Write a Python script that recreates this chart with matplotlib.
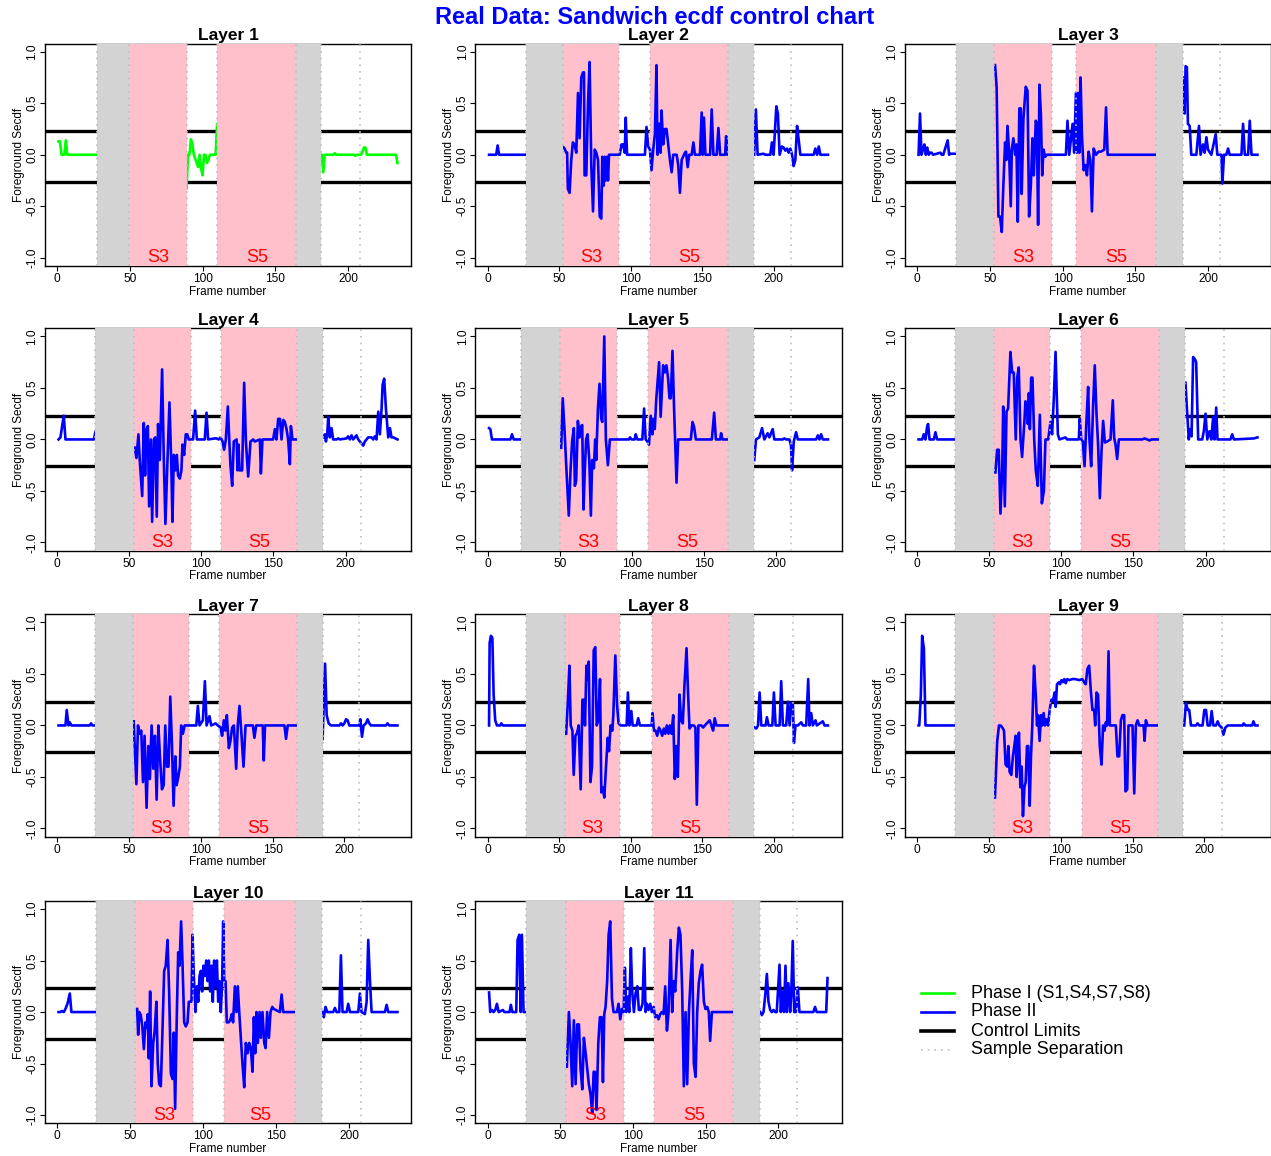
import numpy as np
import matplotlib.pyplot as plt
from matplotlib.lines import Line2D

plt.rcParams['font.family'] = ['Liberation Sans', 'DejaVu Sans']

# control limits
ucl, lcl = 0.23, -0.26

# sample boundaries per layer (frame numbers)
s2_start = [27.5, 26.5, 26.5, 26.5, 23, 26.5, 26.5, 27, 26.5, 26.5, 26.5]
s3_start = [49.5, 52.5, 53, 53, 50, 53.5, 52.5, 54, 53.5, 53.5, 54]
s3_end = [89, 92, 92.5, 92.5, 90, 92, 92, 92.5, 92.5, 93, 93.5]
s5_start = [110, 113.5, 109, 113.5, 111, 113.5, 112.5, 115, 115, 114.5, 114.5]
s5_end = [164.5, 168, 164.5, 166.5, 166.5, 168, 167, 169, 167.5, 163, 169]
s6_end = [181.5, 186.5, 182.5, 184.5, 184.5, 185.5, 185, 186.5, 185.5, 181.5, 187]
s8_start = [208, 212, 208, 211, 210.5, 212.5, 210.5, 213.5, 212, 208, 212.5]
n_frames = [234, 238, 234, 236, 236, 236, 237, 238, 237, 233, 234]

# Layer 1 (phase I, green)
layer1_a = [(1, 0.13), (2, 0.13), (3, 0), (5, 0), (6, 0.14), (7, 0), (27.5, 0)]
layer1_b = [(88, 0), (89, -0.33), (90, 0), (91, 0), (92, 0.15), (93, 0.1), (94, 0), (97, -0.12), (98, 0),
            (99, -0.13), (100, -0.2), (101, 0), (102, 0), (103, -0.08), (104, -0.05), (105, 0), (108, 0),
            (109, 0), (110, 0.3), (111, 0.3)]
layer1_c = [(163, 0), (164, 0), (165, -0.05), (166, 0), (181, 0), (182, 0), (183, -0.17), (184, 0), (190, 0),
            (191, 0.015), (192, 0), (204, 0), (205, -0.01), (206, 0), (209, 0), (210, 0.03), (211, 0.07),
            (212, 0.07), (213, 0), (232, 0), (233, 0), (234, -0.08)]

# Layer 2
layer2_a = [(1, 0), (6, 0), (7, 0.09), (8, 0), (27, 0)]
layer2_b = [(52.6, 0.08), (53.8, 0.06), (55, 0.02), (55.6, 0.02), (56.1, -0.33), (57.3, -0.37), (58.5, -0.05),
            (59.6, 0.12), (60.8, 0.1), (62, 0.02), (63.2, 0.6), (64.3, 0.16), (65.5, 0.75), (66.7, 0.8),
            (67.4, 0.8), (67.8, -0.2), (69, -0.2), (70.2, 0.5), (71.3, 0.9), (72.5, -0.1), (73.7, -0.55),
            (74.9, 0.05), (76, 0.02), (77.2, -0.05), (78.4, -0.6), (79.5, -0.62), (80.2, -0.02), (81.2, -0.3),
            (81.9, -0.02), (82.6, -0.25), (83.5, -0.02), (84.2, -0.25), (84.9, 0), (86.5, 0), (92.4, 0),
            (93.6, 0.1), (94.7, 0.1), (95.9, 0.02), (96.6, 0.36), (97.5, 0), (110, 0), (111.1, 0.27),
            (112.3, 0.08), (113.5, 0.05), (114.6, -0.15), (115.8, 0.05), (117, 0.2), (118.1, 0.87), (118.8, 0),
            (119.6, 0.3), (120.5, 0.3), (121, 0.02), (121.6, 0.43), (122.8, 0.1), (124, 0.25), (125.1, 0.25),
            (126.3, 0.1), (127.5, -0.05), (128.7, -0.17), (129.8, 0), (132.2, 0), (133.3, -0.1), (134.5, -0.37),
            (135.7, -0.05), (138, 0.02), (138.7, 0.03), (139.9, -0.12), (141, 0), (142.7, 0), (143.9, 0.12),
            (145, 0), (148.5, 0), (149.7, 0.41), (150.4, 0), (151.3, 0.36), (152.3, 0), (155.6, 0),
            (156.7, 0.44), (157.9, 0), (160.2, 0), (161.4, 0.26), (162.6, 0), (166.1, 0), (166.8, 0.18),
            (167.7, 0), (168.4, 0.05)]
layer2_c = [(186.4, 0), (187.6, 0.44), (188.8, 0), (193, 0.01), (194.2, 0), (197.7, 0), (198.8, 0.12), (200, 0),
            (201.9, 0.47), (203, 0.4), (204.2, 0), (205.8, 0.08), (207, 0.07), (208.2, 0.04), (209.4, 0.06),
            (210.5, 0.02), (211.7, 0.06), (212.9, 0), (214, -0.11), (215.2, -0.05), (216.4, 0.28),
            (217.5, 0.15), (218.7, 0), (228, 0), (229.2, 0.06), (230.4, 0), (231.6, 0.08), (232.7, 0), (238, 0)]

# Layer 3
layer3_a = [(1, 0), (2, 0.4), (3, 0), (4, 0.05), (5, 0.1), (6, 0), (7, 0.07), (8, 0), (9, 0.02), (10, 0.02),
            (11, 0), (16, 0.02), (17, 0), (18, 0), (21, 0.14), (22, 0), (23, 0.01), (25, 0.01), (27, 0.01)]
layer3_b = [(53.6, 0.87), (54.7, 0.65), (55.9, -0.6), (57, -0.6), (58.2, -0.75), (59.3, -0.3), (60.5, 0.12),
            (61.4, -0.05), (62.1, 0.28), (63.2, 0.05), (64.4, -0.5), (65.1, 0.05), (66.2, 0.16), (67.4, 0),
            (68.3, 0.1), (69.2, -0.65), (70.3, 0.45), (71.3, 0.45), (71.9, -0.38), (73.1, 0.35), (74.7, 0.66),
            (75.9, 0.62), (77, -0.6), (78.2, -0.3), (79.3, 0.16), (80.2, -0.2), (81.6, 0.33), (82.3, 0.3),
            (83.2, -0.68), (84.1, 0.68), (85.1, 0.4), (86, -0.2), (86.9, 0.05), (88, -0.02), (89.2, 0),
            (102.3, 0), (103.4, 0.33), (104.6, 0), (106.9, 0.3), (108, 0.02), (109.2, 0.6), (109.9, 0.02),
            (110.8, 0.6), (111.5, 0.02), (112.4, 0.75), (113.3, 0.2), (114.5, -0.15), (115.6, -0.1),
            (116.8, -0.2), (117.9, 0.03), (119.1, -0.05), (120.2, -0.55), (121.4, 0.06), (123, 0),
            (124.8, 0.03), (126.4, 0.03), (128.7, 0.05), (129.9, 0.46), (131, 0), (164.4, 0)]
layer3_c = [(182.8, 0.75), (183.9, 0.4), (184.6, 0.86), (185.5, 0.85), (186.2, 0.3), (187.4, 0.28), (188.5, 0),
            (192, 0), (193.8, 0.28), (194.9, 0), (196.6, 0.1), (197.7, 0.02), (198.9, 0.17), (200, 0.05),
            (202.3, 0), (205.3, 0.2), (206.4, 0), (209.2, 0), (209.9, -0.28), (211, 0), (212.6, 0),
            (213.8, 0.06), (214.9, 0), (223, 0), (224.1, 0.3), (225.3, 0), (227.6, 0), (228.7, 0.33),
            (229.9, 0), (234, 0)]

# Layer 4
layer4_a = [(1, 0), (2.3, 0.02), (4.6, 0.23), (5.8, 0), (25.5, 0), (26.5, 0.07), (27.5, 0.1)]
layer4_b = [(53.9, -0.08), (55, -0.18), (56.4, 0.05), (57.3, -0.2), (59, -0.55), (60.1, 0.16), (61, -0.35),
            (62, 0.1), (62.9, 0.13), (63.8, -0.65), (65, 0), (65.9, -0.8), (67.1, 0), (68, 0.02), (69.1, -0.75),
            (70, 0.15), (71.2, -0.2), (72.8, 0.68), (74, -0.2), (75.1, -0.82), (76.3, -0.3), (77.9, 0.36),
            (79.1, -0.2), (80, -0.8), (80.9, -0.15), (82.1, -0.3), (83, -0.15), (83.9, -0.35), (85.1, -0.38),
            (86.2, -0.3), (86.9, -0.05), (88.1, -0.15), (89.2, 0.05), (90.2, 0.05), (91.3, 0), (94.3, 0),
            (95.7, 0.28), (96.9, 0), (102.4, 0), (103.6, 0.26), (104.7, 0), (109.4, 0.01), (110.5, 0.01),
            (112.1, 0), (113.3, 0.02), (114.7, -0.02), (115.8, -0.1), (117, 0), (118.4, 0.32), (119.3, 0.02),
            (120.2, -0.25), (121.4, -0.45), (122.5, -0.02), (124.5, 0), (125.1, -0.3), (125.8, -0.05),
            (126.5, -0.3), (127.2, -0.3), (128.3, -0.3), (129.7, 0.55), (130.9, -0.02), (132.5, -0.36),
            (134.1, -0.02), (136, 0), (137.1, -0.02), (140.6, 0), (141.3, -0.33), (142.4, 0), (149.8, 0),
            (151, 0.1), (152.1, 0), (153.3, 0.2), (154.5, 0.2), (155.6, 0), (156.8, 0.19), (157.9, 0.17),
            (159.1, 0.1), (160.2, 0), (161.4, -0.24), (162.1, 0.13), (163.2, 0), (166.7, 0)]
layer4_c = [(185, 0.02), (185.7, 0.05), (186.4, -0.02), (187.3, 0.05), (188, 0.22), (189.1, 0.02), (190.3, 0.11),
            (191.4, 0), (193.8, 0), (194.9, 0.01), (196.1, 0), (200.7, 0.01), (201.8, 0.03), (203, 0),
            (204.2, 0.04), (205.3, 0), (207.6, 0.04), (208.8, 0), (211.1, -0.04), (212.3, -0.06),
            (213.4, -0.02), (214.6, 0), (215.7, 0.02), (218, 0.02), (219.2, 0), (220.3, 0.03), (221.5, 0),
            (222.7, 0.27), (223.8, 0.05), (225, 0.3), (225.7, 0.53), (226.8, 0.59), (228, 0.3), (229.6, 0.02),
            (230.8, 0.11), (231.9, 0.02), (233.1, 0.02), (236, 0)]

# Layer 5
layer5_a = [(1, 0.11), (1.9, 0.1), (3, 0), (15.8, 0), (16.9, 0.05), (18.1, 0), (23.5, 0)]
layer5_b = [(51, -0.08), (52.1, 0.4), (53.3, 0.1), (54.5, -0.25), (56.3, -0.74), (57.5, -0.3), (58.6, -0.02),
            (59.8, 0.11), (60.5, -0.45), (61.4, -0.4), (62.6, 0.18), (63.7, 0.02), (64.4, 0.12), (65.6, 0.14),
            (66.5, -0.68), (67.4, -0.3), (68.3, 0), (69.3, 0.05), (70.5, -0.2), (71.6, -0.74), (72.5, -0.2),
            (73.7, -0.28), (74.6, 0), (75.3, -0.2), (76.5, 0.3), (77.6, 0.54), (78.8, 0.2), (79.5, 0.17),
            (80.9, 1.0), (82, 0), (83.4, -0.25), (84.8, 0), (98, 0), (98.7, 0.02), (99.9, 0), (102, 0),
            (102.7, 0.05), (103.8, 0), (107.3, 0), (108.5, 0.3), (109.6, 0), (110.8, -0.02), (111.9, -0.05),
            (113.1, 0.23), (114.3, 0.05), (114.9, 0.2), (115.9, 0.1), (117, 0.4), (118.9, 0.75), (120, 0.22),
            (121.7, 0.72), (122.8, 0.65), (124, 0.72), (125.1, 0.6), (126.1, 0.4), (127, 0.4), (128.2, 0.86),
            (129.3, 0.3), (131, -0.42), (132.1, 0), (140.9, 0), (142.1, 0.17), (143.2, 0.12), (144.4, 0),
            (155.5, 0), (157.1, 0.26), (158.3, 0), (161.3, 0), (161.9, 0.06), (162.9, 0), (166.4, 0)]
layer5_c = [(184.9, -0.2), (186.1, 0), (188.4, 0.02), (190.3, 0.11), (191.9, 0), (194.2, 0.06), (195.4, 0.02),
            (196.5, 0.06), (197.7, 0.1), (198.8, 0), (204.6, 0), (205.8, 0.01), (207, 0), (209.3, 0),
            (210.4, -0.06), (211.1, -0.3), (212.3, -0.02), (213.9, 0.07), (215.1, 0), (227.8, 0), (229, 0.04),
            (230.1, 0), (231.3, 0.05), (232.4, 0), (236, 0)]

# Layer 6
layer6_a = [(1, 0), (3.5, 0), (4.6, 0.05), (5.8, 0), (6.9, 0.12), (7.6, 0.15), (8.6, 0), (11.6, 0), (12.7, 0.07),
            (13.9, 0), (27, 0)]
layer6_b = [(54.3, -0.32), (55.5, -0.1), (56.6, -0.1), (57.8, -0.72), (59, -0.3), (59.7, 0.32), (60.8, -0.65),
            (62, 0.27), (63.1, 0.3), (64.7, 0.85), (65.9, 0.65), (67, 0.65), (68.4, 0), (69.4, 0.6), (70.5, 0.7),
            (71.7, 0), (72.8, -0.17), (74.5, 0.2), (75.1, 0.37), (76.3, 0.35), (76.8, 0.15), (77.5, 0.45),
            (78.2, 0.1), (79.1, 0.6), (80, 0.6), (81.2, 0), (82.3, -0.3), (83.7, -0.45), (85.1, 0.24),
            (86.5, -0.62), (87.9, -0.5), (89, 0), (90.9, 0), (92.5, 0.17), (93.6, 0.05), (94.8, 0.4), (96, 0.85),
            (97.6, 0.05), (98.7, 0), (102.9, 0.02), (104, 0), (112.1, 0), (112.8, 0.2), (113.8, 0),
            (114.9, -0.02), (116.1, -0.26), (117.5, 0.2), (118.6, 0.51), (119.5, 0), (120.7, -0.26),
            (122.1, 0.35), (123.2, 0.72), (124.4, 0.25), (125.5, -0.05), (126.7, -0.57), (127.9, -0.1),
            (129, 0.18), (130.2, -0.03), (131.8, -0.02), (134.1, 0), (135.7, 0.38), (136.6, 0.02),
            (137.6, -0.05), (138.7, -0.19), (139.9, 0), (156.1, 0), (157.7, 0.01), (159.5, 0), (161.2, -0.01),
            (162.5, 0), (168.1, 0)]
layer6_c = [(186.1, 0.55), (187.3, 0.25), (188.4, 0), (189.1, 0.1), (190.3, 0.03), (191.4, 0.8), (192.6, 0.78),
            (193.5, 0.75), (194.9, 0), (197.7, 0), (198.8, 0.08), (200, 0.25), (201.2, 0), (202.8, 0.08),
            (204, 0), (205.3, 0.22), (206.2, 0), (207.4, 0.31), (208.3, 0), (217.3, 0), (218.5, 0.05),
            (219.7, 0), (233.5, 0.01), (236, 0.02)]

# Layer 7
layer7_a = [(1, 0), (5.8, 0), (6.7, 0.15), (7.9, 0), (8.8, 0.03), (10, 0), (22.7, 0), (23.6, 0.02), (24.6, 0),
            (27.3, 0)]
layer7_b = [(53.3, 0.04), (55.2, -0.57), (56.3, 0), (57.5, -0.08), (58.6, -0.05), (59.8, -0.55), (60.9, -0.1),
            (62.3, -0.8), (63.5, -0.2), (64.6, -0.52), (65.8, 0), (67, -0.42), (68.1, -0.1), (69.3, -0.72),
            (70.5, 0), (71.6, -0.3), (73, -0.62), (74.2, -0.58), (75.3, 0), (76.5, -0.4), (77.6, -0.4),
            (78.8, 0.28), (80, -0.2), (81.1, -0.78), (82.3, -0.3), (83.2, -0.58), (84.4, -0.5), (85.5, -0.4),
            (86.4, 0), (87.6, -0.08), (88.8, 0), (96.9, 0), (98, 0.19), (99.2, 0), (101.5, 0.05), (102.9, 0.43),
            (104.1, 0), (106.1, 0.09), (107.3, 0), (110.3, 0.02), (111.9, 0), (113.8, -0.02), (114.9, -0.1),
            (116.1, 0.05), (117.2, -0.05), (118.2, 0.1), (119.6, -0.22), (120.7, -0.15), (121.9, -0.02),
            (123.1, 0), (124.7, -0.42), (125.8, 0), (127, 0.19), (128.2, -0.05), (129.8, -0.4), (131.2, 0),
            (136.3, 0), (137.4, -0.12), (138.6, 0), (143.2, 0), (143.9, -0.34), (144.8, 0), (158.3, 0),
            (159.4, -0.13), (160.6, 0), (167.1, 0)]
layer7_c = [(184.9, -0.13), (186.6, 0.6), (187.7, 0.1), (189.1, 0.02), (190.7, 0), (196.5, 0), (197.7, 0.02),
            (198.8, 0), (200, 0.02), (201.2, 0.06), (202.3, 0.05), (203.5, 0), (210.4, 0), (211.1, 0.06),
            (212.3, -0.11), (213.4, 0), (215.1, 0.02), (216.2, 0.06), (217.4, 0.02), (218.5, 0), (229, 0),
            (230.1, 0.02), (231.3, 0), (237, 0)]

# Layer 8
layer8_a = [(1, 0), (1.4, 0.8), (2.3, 0.87), (3.3, 0.85), (4.2, 0.3), (5.3, 0.05), (6.5, 0), (8.8, 0),
            (9.5, 0.02), (10.7, 0), (27.4, 0)]
layer8_b = [(54.9, -0.08), (56, 0.2), (57.2, 0.58), (58.1, 0), (59.3, -0.05), (60.2, -0.48), (61.4, -0.1),
            (62.6, -0.07), (63.7, 0), (65.1, -0.62), (66.3, 0.25), (67.2, 0.25), (68.1, 0), (69.1, 0.58),
            (69.8, 0.45), (70.7, 0.62), (71.9, -0.55), (73, -0.4), (74.2, 0.73), (75.3, 0.76), (76.3, 0),
            (77.4, 0.05), (78.6, 0.45), (79.5, -0.65), (80.5, -0.6), (81.6, -0.7), (82.8, -0.4), (84, -0.12),
            (84.9, -0.25), (86, 0), (87.2, -0.05), (87.9, 0.1), (89.3, 0.68), (90.5, 0.2), (91.6, 0.02), (93, 0),
            (97.2, 0), (98.1, 0.32), (99.1, 0), (100.5, 0.14), (101.4, 0), (104.2, 0), (105.3, 0.07),
            (106.5, 0), (114.7, 0), (115.3, 0.12), (116.3, -0.05), (117.4, -0.05), (118.6, -0.1),
            (119.8, -0.02), (120.9, -0.05), (122.1, -0.1), (123.3, -0.03), (124.2, -0.08), (125.3, 0),
            (126.5, -0.08), (127.4, 0), (128.6, -0.08), (129.8, 0.1), (130.9, -0.52), (132.1, -0.2),
            (133, -0.5), (134.2, 0.3), (135.3, 0.05), (136.5, 0.02), (137.7, 0.4), (139.1, 0.75), (140.2, 0.3),
            (141.2, -0.03), (142.6, 0), (144.2, 0), (145.3, -0.02), (146.3, -0.77), (147.4, 0), (149.5, 0),
            (150.7, -0.02), (151.9, 0), (155.3, 0.05), (156.5, 0), (157.7, -0.05), (158.8, 0.07), (160, 0),
            (168.8, 0)]
layer8_c = [(186.7, -0.02), (187.9, -0.03), (189.1, 0), (190.2, 0.32), (191.4, 0), (194.4, 0), (195.3, 0.08),
            (196.5, 0), (199.1, 0), (200.2, 0.32), (201.4, 0), (204.2, 0), (205.3, 0.43), (206.5, 0),
            (208.8, 0), (210, 0.23), (211.2, 0), (212.3, 0.22), (213.5, 0.2), (214.2, -0.17), (215.3, 0),
            (217, 0), (219.3, 0.03), (220.5, 0), (222.8, 0), (224.2, 0.45), (225.1, 0), (226.3, 0.12),
            (227.4, 0), (229.3, 0.05), (230.2, 0), (234.4, 0.04), (235.6, 0), (238, 0)]

# Layer 9
layer9_a = [(1, 0), (1.5, 0), (2.6, 0.3), (3.5, 0.87), (4.7, 0.75), (5.8, 0), (26.7, 0)]
layer9_b = [(54.2, -0.7), (55.8, -0.15), (57, 0), (58.1, 0), (59.3, -0.02), (60.5, -0.05), (61.6, -0.38),
            (62.8, -0.4), (63.5, -0.2), (64.4, -0.45), (65.6, -0.48), (66.7, -0.3), (67.7, -0.2), (68.6, -0.1),
            (69.3, -0.5), (70, -0.3), (70.9, -0.07), (71.9, -0.6), (72.8, -0.4), (73.7, -0.88), (74.7, -0.6),
            (75.6, -0.55), (76.5, -0.2), (77.4, -0.2), (78.4, -0.78), (79.3, -0.3), (80.2, 0), (81.4, 0.58),
            (82.6, 0.3), (83.5, 0), (84.2, 0.1), (85.3, -0.15), (86.3, 0.1), (87.2, 0), (88.1, 0.12), (89.1, 0),
            (90, 0.06), (91.2, 0), (92.3, 0.15), (93.5, 0.25), (94.7, 0.25), (95.8, 0.32), (96.5, 0.18),
            (97.4, 0.4), (98.8, 0.42), (99.5, 0.4), (100.5, 0.44), (101.5, 0.42), (102.5, 0.45), (103.5, 0.41),
            (104.5, 0.45), (106, 0.44), (108, 0.45), (110, 0.45), (113, 0.44), (115, 0.45), (116.3, 0.42),
            (117.4, 0.4), (118.6, 0.55), (119.8, 0.58), (120.9, 0.35), (122.1, 0.15), (123.3, 0.15), (124, 0),
            (124.9, 0.32), (126, 0.3), (127.2, -0.2), (128.4, -0.38), (129.5, 0), (130.5, -0.05), (131.4, 0.03),
            (132.3, 0), (133.3, 0.72), (134.2, 0), (135.3, 0), (138.4, 0), (139.5, -0.3), (140.7, -0.3),
            (141.9, 0.05), (143, 0.1), (144.2, 0.1), (145.1, -0.64), (146.3, -0.62), (147.2, 0), (150, 0),
            (151.2, -0.66), (152.3, 0), (153.5, 0.05), (154.7, 0), (157.7, 0), (158.4, -0.15), (159.3, 0.05),
            (160.5, 0), (167.7, 0)]
layer9_c = [(186, 0), (187.2, 0.22), (188.4, 0.15), (189.5, 0.15), (190.7, 0), (194.2, 0), (195.3, 0.02),
            (196.5, 0), (198.8, 0), (200, 0.15), (201.2, 0.15), (202.3, 0), (204, 0), (205.1, 0.14), (206.3, 0),
            (208.1, 0), (209.3, 0.04), (210.5, 0), (212.1, -0.02), (213.3, -0.09), (214.7, -0.02), (216.3, 0),
            (226.7, 0), (227.4, 0.02), (228.6, 0), (233.3, 0), (234.2, 0.04), (235.3, 0), (237, 0)]

# Layer 10
layer10_a = [(1, 0), (2.3, 0), (3.2, 0.01), (4.6, 0), (5.7, 0.03), (7.1, 0.08), (8.7, 0.18), (9.8, 0), (26.9, 0)]
layer10_b = [(54.8, 0.03), (55.5, -0.22), (56.2, 0), (57.3, -0.03), (58.4, -0.15), (59.4, -0.36), (60.5, -0.1),
             (61.4, -0.15), (62.1, -0.02), (62.8, -0.45), (63.7, 0.2), (64.6, -0.72), (65.8, -0.3), (66.7, -0.2),
             (68, 0.1), (68.9, -0.5), (69.9, -0.7), (71, -0.72), (72.1, -0.2), (73.3, 0.4), (74.4, 0.45),
             (75.6, 0.7), (76.7, 0.2), (77.9, -0.6), (79, -0.65), (79.9, -0.2), (80.8, -0.94), (82, 0),
             (82.9, 0.58), (83.8, 0.45), (84.9, 0.88), (85.8, 0.5), (87, -0.1), (88.1, -0.14), (89.3, -0.1),
             (90.2, 0.1), (91.1, 0.1), (92, 0.1), (92.7, 0.75), (93.6, 0.35), (94.7, 0), (95.7, 0.25),
             (96.6, 0.1), (97.5, 0.35), (98.4, 0.4), (99.3, 0.2), (100.2, 0.45), (101.1, 0.35), (102.1, 0.5),
             (103, 0.3), (103.9, 0.5), (104.8, 0.2), (105.7, 0.45), (106.6, 0.1), (107.5, 0.5), (108.4, 0.25),
             (109.4, 0.5), (110.3, 0.1), (111.2, 0.3), (112.1, 0), (113, 0.3), (113.7, 0.88), (114.4, 0.3),
             (115.3, 0.3), (116.2, -0.1), (117.4, -0.1), (118.5, -0.08), (119.6, -0.02), (120.5, -0.1),
             (121.7, 0.25), (122.8, 0), (123.7, 0.25), (124.9, -0.05), (126, -0.3), (126.9, -0.5),
             (128.1, -0.73), (129.2, -0.3), (130.4, -0.4), (131.5, -0.3), (132.6, -0.35), (133.8, -0.58),
             (134.7, -0.05), (135.6, -0.4), (136.5, 0), (137.4, -0.3), (138.6, 0), (139.5, -0.25), (140.6, 0),
             (141.8, -0.3), (142.7, -0.35), (143.8, 0), (145, -0.25), (146.1, 0), (147.3, 0.05), (148.4, 0.03),
             (152.5, 0), (153.7, 0.17), (154.8, 0), (163.2, 0)]
layer10_c = [(181.7, 0), (182.6, -0.05), (183.8, 0.05), (184.9, 0), (189, 0), (190.2, 0.04), (191.3, 0),
             (193.2, 0), (194.3, 0.55), (195.4, 0), (198.2, 0), (199.3, 0.08), (200.5, 0), (206.2, 0),
             (207.3, 0.18), (208.4, 0), (210.7, -0.02), (211.9, 0.1), (213, 0.7), (214.2, 0.3), (215.3, 0),
             (224.4, 0), (225.6, 0.07), (226.7, 0), (233, 0)]

# Layer 11
layer11_a = [(1, 0.19), (1.8, 0), (3, 0.02), (4.1, 0), (5.3, 0.02), (6.4, 0.08), (7.6, 0), (10.5, 0.02),
             (11.5, 0), (15.1, 0), (16, 0.07), (17, 0), (19.7, 0), (20.6, 0.7), (21.8, 0.75), (22.7, 0),
             (23.6, 0.75), (24.7, 0), (27, 0)]
layer11_b = [(54.5, -0.53), (55.9, 0), (57, -0.3), (58.2, -0.72), (59.3, -0.08), (60.5, -0.7), (61.6, -0.12),
             (62.8, -0.12), (63.9, -0.55), (65.1, -0.75), (66.2, -0.25), (67.4, -0.4), (68.5, -0.55),
             (69.6, -0.7), (70.8, -0.8), (71.9, -0.98), (72.9, -0.58), (73.8, -0.58), (74.9, -0.95),
             (76.1, -0.3), (77.2, -0.05), (78.4, -0.05), (79.3, -0.68), (80.2, -0.02), (81.1, 0.05),
             (82.2, 0.3), (83.2, 0.75), (84.3, 0.88), (85.5, 0.13), (86.6, 0), (88.9, 0), (90, 0.08),
             (91.2, -0.07), (92.3, 0.03), (93.5, 0), (94.4, 0.43), (95.3, 0), (96.4, 0.15), (97.4, 0),
             (98.5, 0.62), (99.4, 0.2), (100.6, 0), (101.7, 0.18), (102.9, 0.25), (104, 0.02), (105.2, 0.02),
             (106.5, 0.08), (107.7, 0.62), (108.6, 0), (109.5, 0.08), (110.6, 0.02), (111.8, 0.08), (112.9, 0),
             (114.1, 0.05), (115.2, -0.05), (116.4, -0.03), (117.5, -0.07), (118.7, -0.02), (119.8, 0),
             (121, -0.02), (122.1, 0.25), (123.3, -0.18), (124.4, 0), (125.8, 0.7), (126.9, 0), (127.8, 0.3),
             (129, 0.2), (130.4, 0.6), (131.5, 0.82), (132.6, 0.75), (133.8, 0.2), (134.9, -0.72), (136.1, 0),
             (137.2, -0.7), (138.4, 0), (139.5, 0.3), (140.7, 0.6), (141.8, -0.5), (143, -0.63), (144.1, 0),
             (145.2, 0.28), (146.4, 0.4), (147.5, 0.46), (148.7, 0.1), (149.8, 0.03), (151, 0.05), (152.1, 0),
             (153, -0.28), (154.2, 0), (169.1, 0)]
layer11_c = [(187.4, 0), (188.5, -0.03), (189.7, 0), (190.8, 0.15), (192, 0.37), (193.1, 0.1), (194.3, 0.02),
             (195.4, 0), (196.6, 0.02), (197.7, 0), (198.8, 0), (200.7, 0.46), (201.6, 0), (202.7, 0.2),
             (203.8, 0), (204.8, 0.45), (205.7, 0), (206.8, 0.28), (208, 0), (208.7, 0.15), (209.8, 0.69),
             (210.8, 0), (211.9, 0), (213.3, 0.24), (214.4, 0), (224, 0), (225.1, 0.05), (226.3, 0),
             (232.8, 0), (233.7, 0.33)]

phase1 = [layer1_a, layer1_b, layer1_c]
phase2 = [None,
          [layer2_a, layer2_b, layer2_c], [layer3_a, layer3_b, layer3_c], [layer4_a, layer4_b, layer4_c],
          [layer5_a, layer5_b, layer5_c], [layer6_a, layer6_b, layer6_c], [layer7_a, layer7_b, layer7_c],
          [layer8_a, layer8_b, layer8_c], [layer9_a, layer9_b, layer9_c], [layer10_a, layer10_b, layer10_c],
          [layer11_a, layer11_b, layer11_c]]

W, H = 1271, 1156
fig = plt.figure(figsize=(W / 100, H / 100), dpi=100)

col_left = [45, 475.5, 905]
row_bottom = [266, 550.7, 836.7, 1123.3]
ax_w, ax_h = 366, 222.5

for i in range(11):
    r, c = divmod(i, 3)
    ax = fig.add_axes([col_left[c] / W, 1 - row_bottom[r] / H, ax_w / W, ax_h / H])
    n = n_frames[i]
    pad = 0.04 * (n - 1)
    ax.set_xlim(1 - pad, n + pad)
    ax.set_ylim(-1.08, 1.08)

    ax.axhline(ucl, color='black', lw=2.4, zorder=1)
    ax.axhline(lcl, color='black', lw=2.4, zorder=1)

    if i == 0:
        for seg in phase1:
            a = np.array(seg)
            ax.plot(a[:, 0], a[:, 1], color='#00ff00', lw=1.9, zorder=2)

    ax.axvspan(s3_start[i], s3_end[i], color='pink', lw=0, zorder=3)
    ax.axvspan(s5_start[i], s5_end[i], color='pink', lw=0, zorder=3)

    if phase2[i] is not None:
        for seg in phase2[i]:
            a = np.array(seg)
            ax.plot(a[:, 0], a[:, 1], color='#0000ff', lw=1.9, zorder=4)

    ax.axvspan(s2_start[i], s3_start[i], color='lightgray', lw=0, zorder=5)
    ax.axvspan(s5_end[i], s6_end[i], color='lightgray', lw=0, zorder=5)

    for xb in [s2_start[i], s3_start[i], s3_end[i], s5_start[i], s5_end[i], s6_end[i], s8_start[i]]:
        ax.axvline(xb, color='#bebebe', ls=(0, (1, 3)), lw=1.2, zorder=6)

    ax.text((s3_start[i] + s3_end[i]) / 2, -1.0, 'S3', color='red', fontsize=13,
            ha='center', va='center', zorder=7)
    ax.text((s5_start[i] + s5_end[i]) / 2, -1.0, 'S5', color='red', fontsize=13,
            ha='center', va='center', zorder=7)

    ax.set_xticks([0, 50, 100, 150, 200])
    ax.set_yticks([-1, -0.5, 0, 0.5, 1])
    ax.set_yticklabels(['-1.0', '-0.5', '0.0', '0.5', '1.0'], rotation=90, va='center')
    ax.tick_params(direction='out', length=3.5, width=0.8, labelsize=8.6, pad=1.5)
    for sp in ax.spines.values():
        sp.set_linewidth(1.0)
    ax.set_title(f'Layer {i + 1}', fontsize=12.5, fontweight='bold', pad=2)
    ax.set_xlabel('Frame number', fontsize=8.5, labelpad=0.5)
    ax.set_ylabel('Foreground Secdf', fontsize=8.5, labelpad=1)

fig.text(655 / W, 1 - 17 / H, 'Real Data: Sandwich ecdf control chart', ha='center', va='center',
         color='#0000ff', fontsize=17, fontweight='bold')

# legend in the empty slot
leg_labels = ['Phase I (S1,S4,S7,S8)', 'Phase II', 'Control Limits', 'Sample Separation']
leg_colors = ['#00ff00', '#0000ff', 'black', '#bebebe']
leg_widths = [1.9, 1.9, 2.6, 1.2]
leg_styles = ['-', '-', '-', (0, (1, 3))]
leg_rows = [993, 1012, 1031, 1050]
for lab, col, lw, ls, yy in zip(leg_labels, leg_colors, leg_widths, leg_styles, leg_rows):
    fy = 1 - yy / H
    fig.add_artist(Line2D([921 / W, 954 / W], [fy, fy], transform=fig.transFigure,
                          color=col, lw=lw, ls=ls))
    fig.text(971 / W, fy, lab, fontsize=12.9, va='center', ha='left')

fig.savefig('out.png', dpi=100)
